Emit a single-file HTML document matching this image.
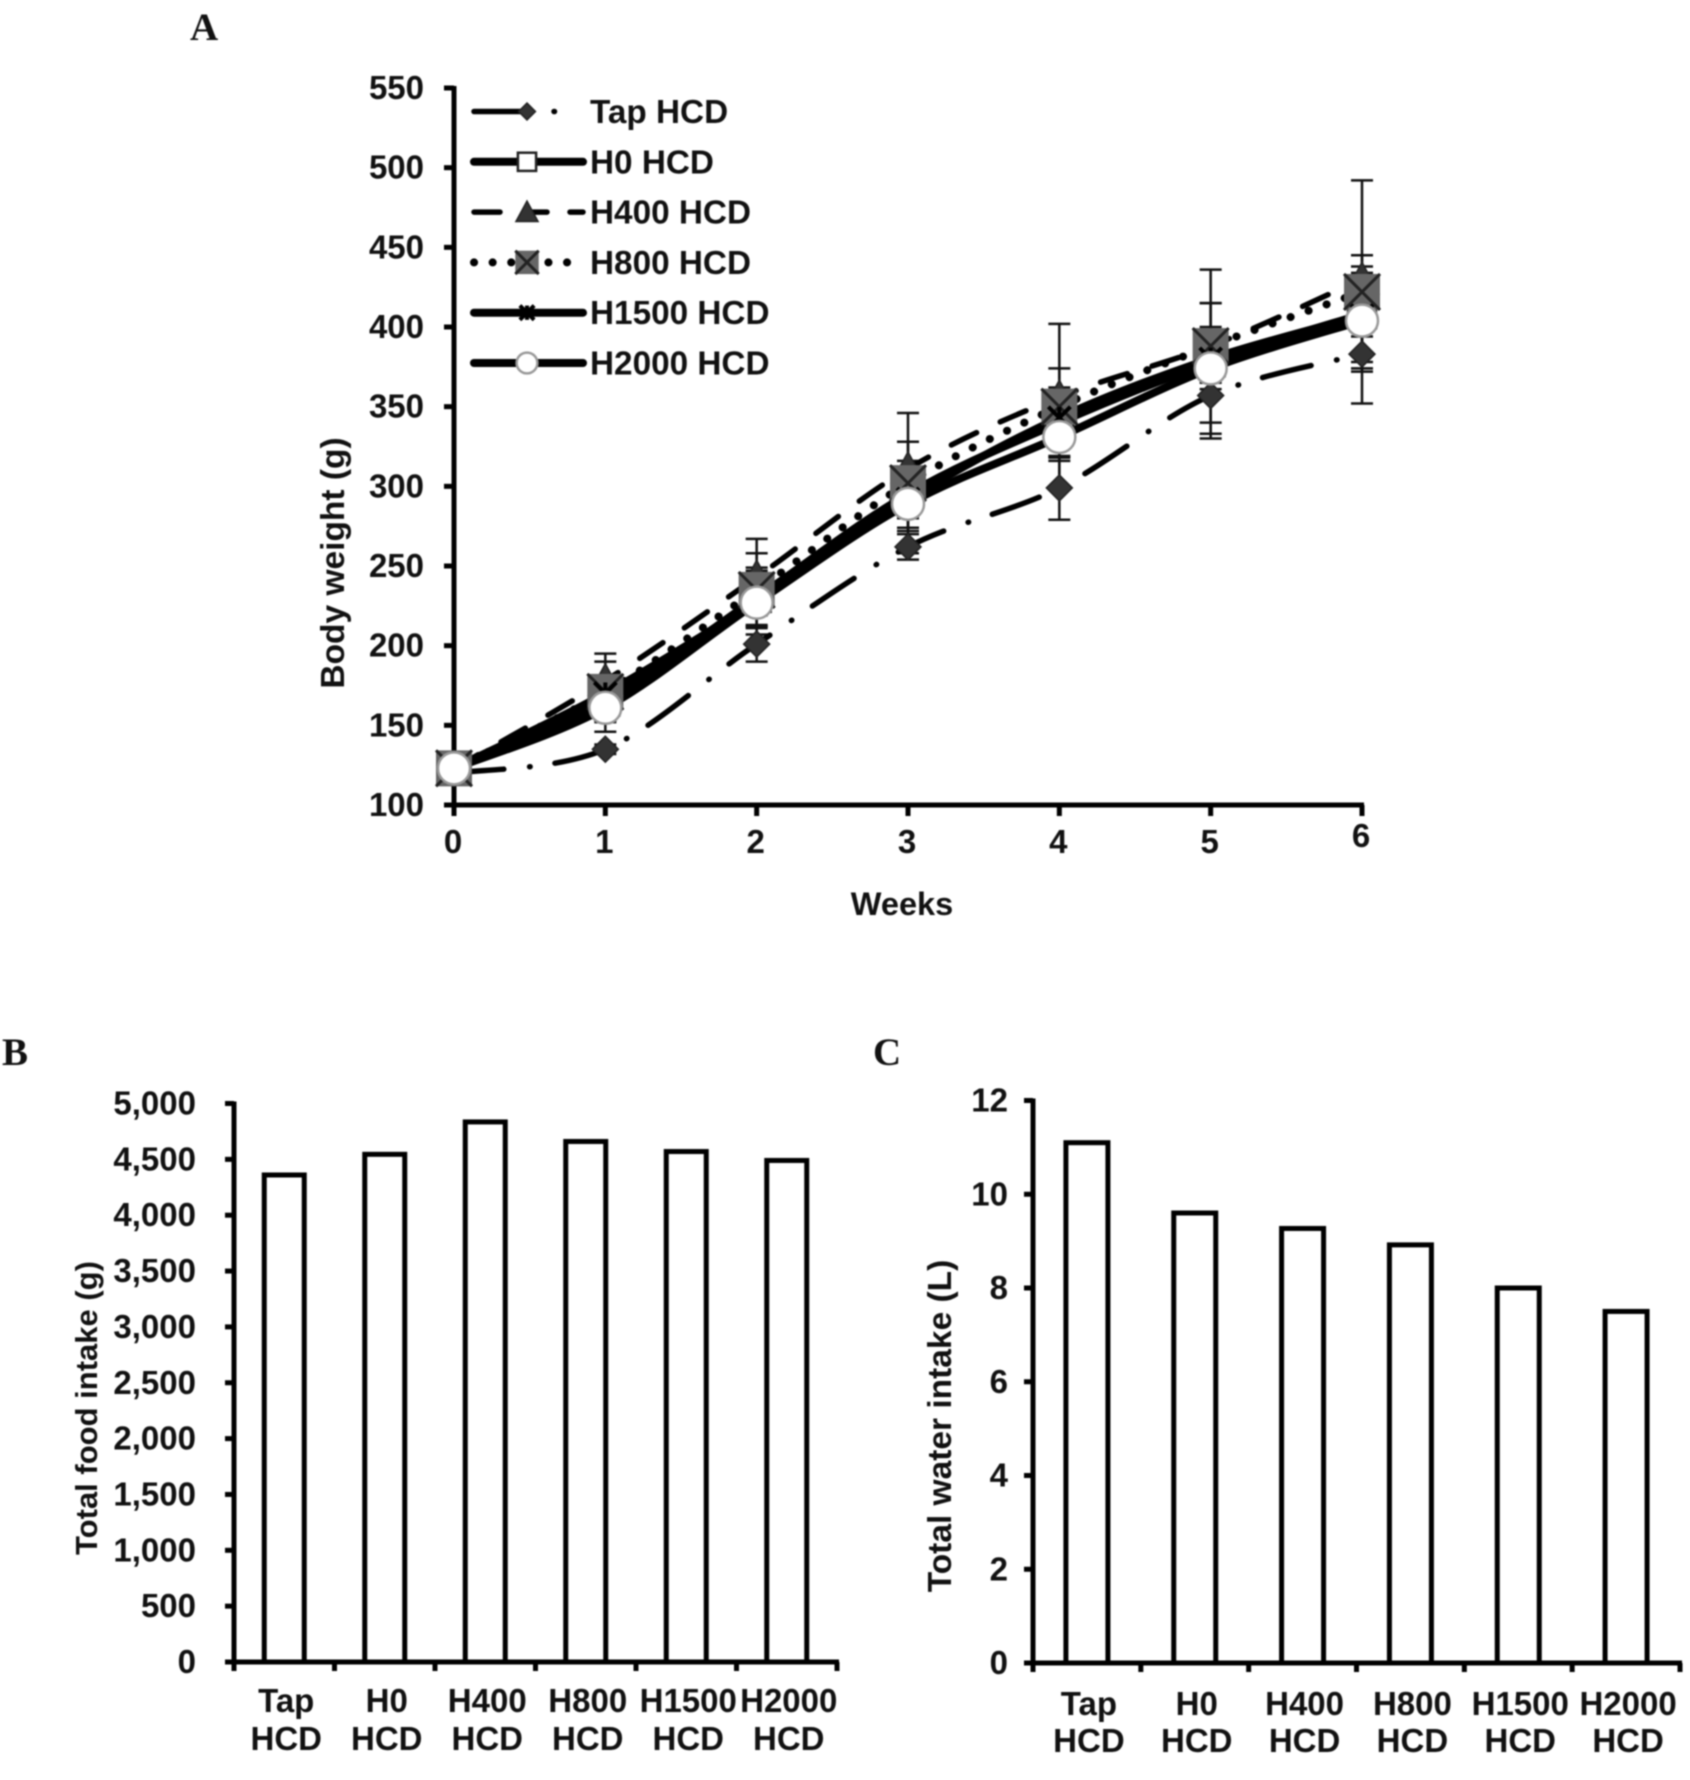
<!DOCTYPE html>
<html>
<head>
<meta charset="utf-8">
<style>
html,body{margin:0;padding:0;background:#fff;width:1690px;height:1780px;overflow:hidden}
svg{display:block;filter:blur(0.7px)}
text{font-family:"Liberation Sans",sans-serif;font-weight:700;fill:#111}
.panel{font-family:"Liberation Serif",serif;font-size:39px;fill:#111}
</style>
</head>
<body>
<svg id="figure" width="1690" height="1780" viewBox="0 0 1690 1780" xmlns="http://www.w3.org/2000/svg">
<text class="panel" x="190" y="40">A</text>
<text class="panel" x="2" y="1065">B</text>
<text class="panel" x="873" y="1065">C</text>
</svg>
<script>
const weeks = [0, 1, 2, 3, 4, 5, 6];
const weightTicks = [100, 150, 200, 250, 300, 350, 400, 450, 500, 550];
const tapValues = [120, 135, 201, 262, 299, 357, 383];
const h0Values = [123, 165, 230, 295, 340, 378, 408];
const h400Values = [123, 178, 243, 311, 356, 388, 430];
const h800Values = [123, 171, 235, 302, 350, 388, 422];
const h1500Values = [123, 170, 228, 292, 343, 380, 407];
const h2000Values = [123, 161, 227, 289, 331, 374, 404];
const tapErrors = [0, 3, 11, 8, 20, 27, 11];
const h0Errors = [0, 12, 19, 21, 22, 22, 30];
const h400Errors = [0, 17, 24, 17, 18, 27, 15];
const h800Errors = [0, 19, 23, 44, 52, 48, 70];
const h1500Errors = [0, 8, 15, 12, 10, 15, 25];
const h2000Errors = [0, 15, 20, 17, 15, 41, 30];
const seriesNames = ['Tap HCD', 'H0 HCD', 'H400 HCD', 'H800 HCD', 'H1500 HCD', 'H2000 HCD'];
const categories = ['Tap', 'H0', 'H400', 'H800', 'H1500', 'H2000'];
const foodValues = [4360, 4545, 4835, 4660, 4570, 4490];
const foodTicks = [0, 500, 1000, 1500, 2000, 2500, 3000, 3500, 4000, 4500, 5000];
const waterValues = [11.1, 9.6, 9.27, 8.92, 8.0, 7.5];
const waterTicks = [0, 2, 4, 6, 8, 10, 12];

const svg = document.getElementById('figure');
const NS = 'http://www.w3.org/2000/svg';
function mk(tag, attrs, parent) {
  const n = document.createElementNS(NS, tag);
  for (const k in attrs) n.setAttribute(k, attrs[k]);
  (parent || svg).appendChild(n);
  return n;
}
function label(txt, x, y, size, anchor, parent) {
  const t = mk('text', {x: x, y: y, 'font-size': size, 'text-anchor': anchor}, parent);
  t.textContent = txt;
  return t;
}
function lineEl(x1, y1, x2, y2, w, color, parent) {
  return mk('line', {x1: x1, y1: y1, x2: x2, y2: y2, stroke: color || '#000', 'stroke-width': w}, parent);
}

/* Panel A */
const AX = {l: 454, r: 1362, t: 88, b: 805};
const ax = w => AX.l + (w - weeks[0]) / (weeks[weeks.length - 1] - weeks[0]) * (AX.r - AX.l);
const ay = v => AX.b - (v - 100) / 450 * (AX.b - AX.t);
const styles = [
  {w: 5.5, dash: '50 26 0.5 25', cap: 'round'},
  {w: 8, dash: '', cap: 'round'},
  {w: 5.5, dash: '28 26', cap: 'round'},
  {w: 8, dash: '0.1 19', cap: 'round'},
  {w: 8, dash: '', cap: 'round'},
  {w: 8, dash: '', cap: 'round'}
];
const legendDash = ['52 28 0.5 200', '', '26 27 20 23 13 100', '0.1 18.5', '', ''];
const allValues = [tapValues, h0Values, h400Values, h800Values, h1500Values, h2000Values];
const allErrors = [tapErrors, h0Errors, h400Errors, h800Errors, h1500Errors, h2000Errors];

const gAxisA = mk('g', {});


const yAxisA = lineEl(AX.l, AX.t - 2, AX.l, AX.b + 2, 5, '#000', gAxisA);


const xAxisA = lineEl(AX.l - 10, AX.b, AX.r + 2, AX.b, 5, '#000', gAxisA);


weightTicks.forEach(v => {
  lineEl(AX.l - 10, ay(v), AX.l, ay(v), 5, '#000', gAxisA);
  const t = label(String(v), 424, ay(v) + 11, 33, 'end', gAxisA);
  
  
});
weeks.forEach(w => {
  lineEl(ax(w), AX.b, ax(w), AX.b + 11, 5, '#000', gAxisA);
  const t = label(String(w), ax(w) - 1, w === 6 ? 847 : 853, 33, 'middle', gAxisA);
  
  
});
const yTitleA = label('Body weight (g)', 0, 0, 33.5, 'middle');
yTitleA.setAttribute('transform', 'translate(344 563) rotate(-90)');


const xTitleA = label('Weeks', 902, 915, 32.5, 'middle');



function smoothPath(vals) {
  const pts = vals.map((v, i) => [ax(weeks[i]), ay(v)]);
  let d = 'M' + pts[0][0] + ' ' + pts[0][1];
  for (let i = 0; i < pts.length - 1; i++) {
    const p0 = pts[Math.max(0, i - 1)], p1 = pts[i], p2 = pts[i + 1], p3 = pts[Math.min(pts.length - 1, i + 2)];
    const c1 = [p1[0] + (p2[0] - p0[0]) / 6, p1[1] + (p2[1] - p0[1]) / 6];
    const c2 = [p2[0] - (p3[0] - p1[0]) / 6, p2[1] - (p3[1] - p1[1]) / 6];
    d += ' C' + c1[0] + ' ' + c1[1] + ' ' + c2[0] + ' ' + c2[1] + ' ' + p2[0] + ' ' + p2[1];
  }
  return d;
}
function drawMarker(i, x, y, k, parent) {
  let m;
  if (i === 0) {
    const r = 13 * k;
    m = mk('polygon', {points: [x, y - r, x + r, y, x, y + r, x - r, y].join(' '), fill: '#333', stroke: '#222', 'stroke-width': 1.5}, parent);
  } else if (i === 1) {
    const r = 14 * k;
    m = mk('rect', {x: x - r, y: y - r, width: 2 * r, height: 2 * r, fill: '#fff', stroke: '#222', 'stroke-width': 2.5}, parent);
  } else if (i === 2) {
    const r = 17 * k;
    m = mk('polygon', {points: [x, y - r, x + r, y + r * 0.85, x - r, y + r * 0.85].join(' '), fill: '#333', stroke: '#222', 'stroke-width': 1.5}, parent);
  } else if (i === 3) {
    const r = 18 * k;
    m = mk('g', {}, parent);
    mk('rect', {x: x - r, y: y - r, width: 2 * r, height: 2 * r, fill: '#666'}, m);
    lineEl(x - r, y - r, x + r, y + r, 3, '#222', m);
    lineEl(x - r, y + r, x + r, y - r, 3, '#222', m);
  } else if (i === 4) {
    const r = 11 * k;
    m = mk('g', {}, parent);
    lineEl(x - r, y - r, x + r, y + r, 4, '#000', m);
    lineEl(x - r, y + r, x + r, y - r, 4, '#000', m);
    lineEl(x, y - r, x, y + r, 4, '#000', m);
  } else {
    m = mk('circle', {cx: x, cy: y, r: 16 * k, fill: '#fff', stroke: '#999', 'stroke-width': 2.5}, parent);
  }
  return m;
}

const gErr = mk('g', {});


allValues.forEach((vals, i) => {
  vals.forEach((v, j) => {
    const e = allErrors[i][j];
    if (!e) return;
    const x = ax(weeks[j]);
    lineEl(x, ay(v + e), x, ay(v - e), 2.5, '#111', gErr);
    lineEl(x - 11, ay(v + e), x + 11, ay(v + e), 2.5, '#111', gErr);
    lineEl(x - 11, ay(v - e), x + 11, ay(v - e), 2.5, '#111', gErr);
  });
});

allValues.forEach((vals, i) => {
  const st = styles[i];
  const p = mk('path', {d: smoothPath(vals), fill: 'none', stroke: '#000', 'stroke-width': st.w, 'stroke-linecap': st.cap, 'stroke-linejoin': 'round', 'stroke-dasharray': st.dash});
  
  
});
allValues.forEach((vals, i) => {
  const g = mk('g', {});
  
  
  vals.forEach((v, j) => drawMarker(i, ax(weeks[j]), ay(v), 1, g));
});

/* Legend */
const legendG = mk('g', {});


seriesNames.forEach((name, i) => {
  const y = 111.5 + i * 50.3;
  const st = styles[i];
  const entry = mk('g', {}, legendG);
  
  
  mk('line', {x1: 474, y1: y, x2: i === 3 ? 570 : 583, y2: y, stroke: '#000', 'stroke-width': st.w, 'stroke-linecap': 'round', 'stroke-dasharray': legendDash[i]}, entry);
  drawMarker(i, 527, y, 0.65, entry);
  label(name, 590, y + 11.5, 33.3, 'start', entry);
});

/* Bars */
function barPanel(cfg) {
  const g = mk('g', {});
  
  
  const n = cfg.values.length;
  const step = (cfg.r - cfg.l) / n;
  const yScale = v => cfg.b - (v - 0) / cfg.max * (cfg.b - cfg.t);
  cfg.values.forEach((v, i) => {
    const c = cfg.l + step * (i + 0.5);
    const bar = mk('rect', {x: c - cfg.bw / 2, y: yScale(v), width: cfg.bw, height: cfg.b - yScale(v), fill: '#fff', stroke: '#000', 'stroke-width': 5}, g);
    
    
    const l1 = label(categories[i], c + cfg.lx, cfg.l1, 33, 'middle', g);
    
    
    const l2 = label('HCD', c + cfg.lx, cfg.l2, 33, 'middle', g);
    
    
  });
  lineEl(cfg.l, cfg.t - 2, cfg.l, cfg.b + 3, 5, '#000', g);
  lineEl(cfg.l - 9, cfg.b, cfg.r + 2, cfg.b, 5, '#000', g);
  for (let i = 0; i <= n; i++) {
    const x = cfg.l + step * i;
    lineEl(x, cfg.b, x, cfg.b + 9, 5, '#000', g);
  }
  cfg.ticks.forEach(v => {
    lineEl(cfg.l - 9, yScale(v), cfg.l, yScale(v), 5, '#000', g);
    const t = label(v.toLocaleString('en-US'), cfg.tx, yScale(v) + 11, 33, 'end', g);
    
    
  });
  const tt = label(cfg.title, 0, 0, cfg.titleSize, 'middle', g);
  tt.setAttribute('transform', 'translate(' + cfg.titleX + ' ' + cfg.titleY + ') rotate(-90)');
  
  
}
barPanel({name: 'panel-b-food-intake', values: foodValues, ticks: foodTicks, max: 5000, l: 234, r: 837, t: 1103.5, b: 1662, bw: 40, tx: 196, l1: 1712, l2: 1750, lx: 2, title: 'Total food intake (g)', titleSize: 31, titleX: 97, titleY: 1408});
barPanel({name: 'panel-c-water-intake', values: waterValues, ticks: waterTicks, max: 12, l: 1033, r: 1680, t: 1100.5, b: 1663, bw: 42, tx: 1008, l1: 1715, l2: 1752, lx: 2, title: 'Total water intake (L)', titleSize: 33.5, titleX: 951, titleY: 1426});
</script>
</body>
</html>
